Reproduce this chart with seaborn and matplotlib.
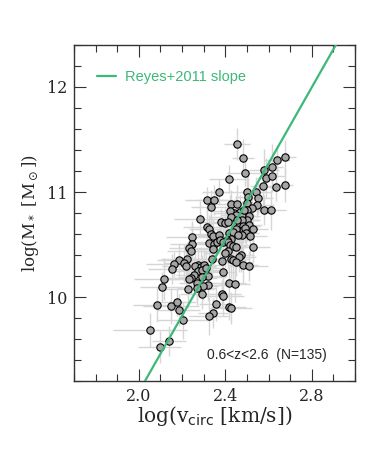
import numpy as np
import matplotlib
matplotlib.use('Agg')
import matplotlib.pyplot as plt
from matplotlib.ticker import MultipleLocator
import seaborn as sns

sns.set_style('ticks')

# log(v_circ) and log(M*) of the galaxies
logv = [2.453, 2.481, 2.490, 2.578, 2.615, 2.638, 2.675, 2.416, 2.587, 2.615,
        2.370, 2.499, 2.541, 2.573, 2.634, 2.675, 2.504, 2.550, 2.314, 2.347,
        2.333, 2.425, 2.453, 2.499, 2.546, 2.523, 2.578, 2.610, 2.439, 2.467,
        2.421, 2.499, 2.449, 2.476, 2.509, 2.425, 2.499, 2.476, 2.282, 2.379,
        2.398, 2.412, 2.462, 2.481, 2.509, 2.462, 2.481, 2.490, 2.449, 2.527,
        2.495, 2.513, 2.476, 2.416, 2.435, 2.458, 2.314, 2.324, 2.333, 2.342,
        2.370, 2.425, 2.407, 2.245, 2.245, 2.231, 2.240, 2.324, 2.347, 2.361,
        2.342, 2.375, 2.388, 2.412, 2.421, 2.435, 2.449, 2.527, 2.412, 2.398,
        2.472, 2.462, 2.425, 2.384, 2.338, 2.435, 2.449, 2.481, 2.509, 2.222,
        2.185, 2.162, 2.208, 2.153, 2.273, 2.259, 2.287, 2.301, 2.273, 2.254,
        2.291, 2.310, 2.319, 2.291, 2.240, 2.116, 2.106, 2.231, 2.268, 2.319,
        2.296, 2.268, 2.227, 2.291, 2.388, 2.416, 2.444, 2.384, 2.388, 2.356,
        2.342, 2.324, 2.416, 2.425, 2.083, 2.148, 2.176, 2.185, 2.203, 2.051,
        2.139, 2.097, 2.217, 2.486, 2.453]
logm = [11.457, 11.324, 11.181, 11.210, 11.238, 11.305, 11.333, 11.124, 11.133, 11.152,
        11.000, 11.000, 11.000, 11.057, 11.048, 11.067, 10.952, 10.943, 10.924, 10.924,
        10.857, 10.886, 10.886, 10.895, 10.876, 10.848, 10.829, 10.829, 10.800, 10.810,
        10.819, 10.829, 10.781, 10.771, 10.771, 10.762, 10.733, 10.733, 10.743, 10.714,
        10.705, 10.714, 10.676, 10.676, 10.686, 10.629, 10.638, 10.657, 10.648, 10.648,
        10.610, 10.581, 10.590, 10.610, 10.619, 10.590, 10.667, 10.648, 10.600, 10.581,
        10.590, 10.552, 10.543, 10.571, 10.505, 10.467, 10.438, 10.514, 10.505, 10.524,
        10.457, 10.543, 10.524, 10.524, 10.495, 10.486, 10.476, 10.476, 10.438, 10.419,
        10.400, 10.381, 10.362, 10.343, 10.362, 10.352, 10.333, 10.305, 10.295, 10.362,
        10.352, 10.314, 10.324, 10.267, 10.305, 10.295, 10.286, 10.305, 10.248, 10.210,
        10.257, 10.276, 10.200, 10.190, 10.181, 10.171, 10.095, 10.171, 10.133, 10.114,
        10.105, 10.086, 10.076, 10.029, 10.238, 10.133, 10.124, 10.029, 10.010, 9.933,
        9.848, 9.819, 9.905, 9.895, 9.924, 9.914, 9.952, 9.876, 9.781, 9.686,
        9.581, 9.524, 10.295, 10.829, 10.733]
xerr = [0.06, 0.05, 0.08, 0.07, 0.05, 0.06, 0.05, 0.09, 0.04, 0.06,
        0.08, 0.05, 0.07, 0.06, 0.05, 0.04, 0.06, 0.07, 0.10, 0.08,
        0.09, 0.07, 0.06, 0.05, 0.08, 0.06, 0.05, 0.07, 0.09, 0.06,
        0.08, 0.05, 0.07, 0.06, 0.05, 0.10, 0.06, 0.08, 0.12, 0.09,
        0.07, 0.06, 0.05, 0.08, 0.06, 0.07, 0.05, 0.06, 0.09, 0.07,
        0.06, 0.08, 0.05, 0.10, 0.07, 0.06, 0.11, 0.09, 0.08, 0.07,
        0.10, 0.06, 0.08, 0.12, 0.10, 0.09, 0.11, 0.08, 0.07, 0.09,
        0.10, 0.06, 0.08, 0.07, 0.09, 0.06, 0.05, 0.08, 0.07, 0.10,
        0.06, 0.08, 0.09, 0.07, 0.10, 0.06, 0.08, 0.07, 0.09, 0.12,
        0.10, 0.13, 0.09, 0.11, 0.08, 0.10, 0.07, 0.09, 0.11, 0.08,
        0.10, 0.07, 0.09, 0.11, 0.12, 0.14, 0.10, 0.09, 0.08, 0.10,
        0.07, 0.09, 0.12, 0.10, 0.06, 0.08, 0.07, 0.09, 0.10, 0.08,
        0.07, 0.09, 0.08, 0.10, 0.11, 0.13, 0.09, 0.10, 0.12, 0.17,
        0.08, 0.10, 0.11, 0.07, 0.06]
yerr = [0.15, 0.18, 0.12, 0.20, 0.22, 0.14, 0.16, 0.13, 0.19, 0.15,
        0.12, 0.17, 0.14, 0.18, 0.13, 0.16, 0.20, 0.15, 0.12, 0.14,
        0.16, 0.13, 0.18, 0.15, 0.12, 0.17, 0.14, 0.19, 0.13, 0.16,
        0.15, 0.12, 0.18, 0.14, 0.16, 0.13, 0.20, 0.15, 0.17, 0.12,
        0.14, 0.18, 0.15, 0.13, 0.16, 0.19, 0.12, 0.14, 0.17, 0.15,
        0.13, 0.18, 0.16, 0.12, 0.14, 0.15, 0.17, 0.13, 0.19, 0.16,
        0.14, 0.12, 0.18, 0.15, 0.20, 0.13, 0.16, 0.17, 0.14, 0.12,
        0.15, 0.18, 0.13, 0.16, 0.14, 0.19, 0.12, 0.15, 0.17, 0.13,
        0.16, 0.14, 0.18, 0.12, 0.15, 0.20, 0.13, 0.17, 0.14, 0.16,
        0.15, 0.12, 0.18, 0.14, 0.16, 0.13, 0.19, 0.15, 0.12, 0.17,
        0.14, 0.16, 0.13, 0.18, 0.15, 0.20, 0.14, 0.12, 0.17, 0.15,
        0.13, 0.16, 0.18, 0.14, 0.12, 0.15, 0.17, 0.13, 0.19, 0.16,
        0.14, 0.18, 0.12, 0.15, 0.16, 0.17, 0.13, 0.15, 0.18, 0.16,
        0.14, 0.15, 0.20, 0.12, 0.16]

# Reyes+2011 slope line
slope = 3.62
intercept = 1.859
line_x = np.array([1.9, 3.0])

green = '#3cb878'

fig = plt.figure(figsize=(3.74, 4.49), dpi=100)
ax = fig.add_axes([0.198, 0.151, 0.751, 0.749])

ax.errorbar(logv, logm, xerr=xerr, yerr=yerr, fmt='none', ecolor='#d6d6d6',
            elinewidth=1.0, capsize=0, zorder=1)
sns.scatterplot(x=logv, y=logm, ax=ax, color='#a6a6a6', edgecolor='black',
                s=28, linewidth=0.8, zorder=3)
sns.lineplot(x=line_x, y=slope * line_x + intercept, ax=ax, color=green,
             linewidth=1.6, zorder=4, label='Reyes+2011 slope')

ax.set_xlim(1.7, 3.0)
ax.set_ylim(9.2, 12.4)
ax.xaxis.set_major_locator(MultipleLocator(0.4))
ax.xaxis.set_minor_locator(MultipleLocator(0.1))
ax.yaxis.set_major_locator(MultipleLocator(1))
ax.yaxis.set_minor_locator(MultipleLocator(0.2))
ax.tick_params(which='both', direction='in', top=True, right=True,
               color='#333333', width=0.8)
ax.tick_params(which='major', length=8.5, labelsize=11.5, pad=5)
ax.tick_params(which='minor', length=5)
for lab in ax.get_xticklabels() + ax.get_yticklabels():
    lab.set_family('DejaVu Serif')
for s in ax.spines.values():
    s.set_color('#333333')
    s.set_linewidth(1.0)

plt.rcParams['mathtext.fontset'] = 'dejavuserif'
ax.set_xlabel(r'log(v$_{\rm circ}$ [km/s])', family='DejaVu Serif',
              fontsize=14.5, labelpad=-1)
ax.set_ylabel(r'log(M$_*$ [M$_\odot$])', family='DejaVu Serif',
              fontsize=12, labelpad=4)

leg = ax.legend(loc='upper left', bbox_to_anchor=(0.081, 0.925), frameon=False,
                handlelength=1.3, handletextpad=0.6, borderpad=0,
                borderaxespad=0, prop={'family': 'Liberation Sans', 'size': 10.5},
                labelcolor=green)

ax.text(0.90, 0.077, '0.6<z<2.6  (N=135)', transform=ax.transAxes,
        ha='right', va='center', fontsize=10, family='Liberation Sans')

fig.savefig('out.png', dpi=100)
